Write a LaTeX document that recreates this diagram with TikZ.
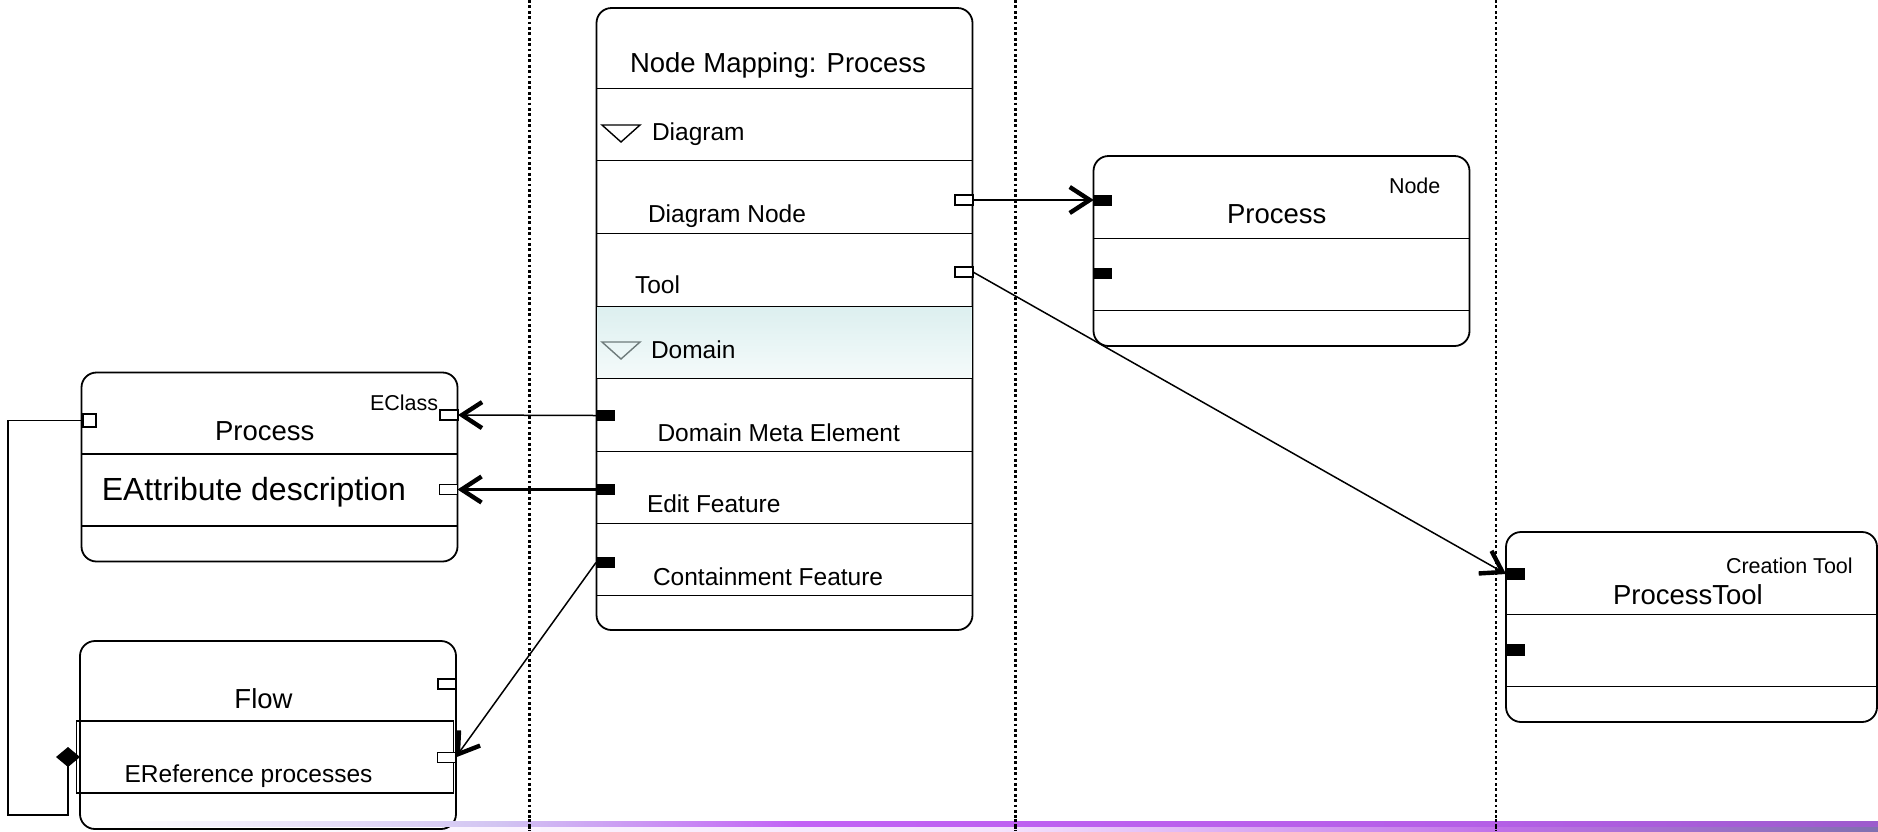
\documentclass[tikz,border=0pt]{standalone}
\usepackage{fontspec}
\setmainfont{Liberation Sans}
\usetikzlibrary{arrows.meta}
\definecolor{domtop}{HTML}{DCEFEF}
\definecolor{dombot}{HTML}{F5FBFB}
\definecolor{trigray}{HTML}{6E7B7B}
\definecolor{barA}{HTML}{C262F5}
\definecolor{barB}{HTML}{B45FE6}
\definecolor{barC}{HTML}{9C5CCC}
\definecolor{barD}{HTML}{F4E4FC}
\definecolor{barE}{HTML}{C070E8}
\definecolor{barF}{HTML}{8070B0}
\definecolor{barL}{HTML}{D2C4F2}
\begin{document}
\begin{tikzpicture}[x=1pt,y=-1pt,
  box/.style={draw=black, line width=1.8pt, rounded corners=15pt, fill=white, inner sep=0pt, outer sep=0pt},
  sep/.style={draw=black, line width=1.7pt},
  wport/.style={draw=black, fill=white, line width=1.3pt, inner sep=0pt, outer sep=0pt, minimum width=18pt, minimum height=10pt},
  bport/.style={draw=none, fill=black, inner sep=0pt, outer sep=0pt, minimum width=19pt, minimum height=11pt},
  txt/.style={inner sep=0pt, outer sep=0pt},
  rowlbl/.style={txt, anchor=base west, font=\fontsize{24.5}{28}\selectfont},
  cname/.style={txt, font=\fontsize{27.5}{31}\selectfont},
  stereo/.style={txt, anchor=base west, font=\fontsize{21.5}{25}\selectfont},
  link/.style={draw=black, line width=1.5pt},
  barb/.style={-{Straight Barb[length=20pt,width=26pt,line width=4.4pt]}},
  lane/.style={draw=black, line width=2.8pt, dash pattern=on 2.8pt off 2.6pt},
]
\useasboundingbox (0,0) rectangle (1878,831);

% footer strip, lower band
\shade[left color=white, right color=barD] (80,826) rectangle (1000,831);
\shade[left color=barD, right color=barE] (999.5,826) rectangle (1500,831);
\shade[left color=barE, right color=barF] (1499.5,826) rectangle (1878,831);

% swimlane separators
\draw[lane] (529.5,0) -- (529.5,831);
\draw[lane] (1015.6,0) -- (1015.6,831);
\draw[lane] (1496,0) -- (1496,831);

% boxes
\node[box, minimum width=376pt, minimum height=622pt] (map) at (784.5,319) {};
\node[box, minimum width=376pt, minimum height=190pt] (procN) at (1281.5,251) {};
\node[box, minimum width=371pt, minimum height=190pt] (ptool) at (1691.5,627) {};
\node[box, minimum width=376pt, minimum height=189pt] (procL) at (269.5,467) {};
\node[box, minimum width=376pt, minimum height=188pt] (flow) at (268,735) {};

% footer strip, upper band (runs over the lower boxes)
\shade[left color=white, right color=barL] (110,821) rectangle (500,826);
\shade[left color=barL, right color=barA] (499.5,821) rectangle (800,826);
\shade[left color=barA, right color=barB] (799.5,821) rectangle (1500,826);
\shade[left color=barB, right color=barC] (1499.5,821) rectangle (1878,826);
\draw[lane] (529.5,819) -- (529.5,831);
\draw[lane] (1015.6,819) -- (1015.6,831);
\draw[lane] (1496,819) -- (1496,831);

% node mapping compartments
\shade[top color=domtop, bottom color=dombot] (597.4,306.5) rectangle (971.6,378.5);
\foreach \yy in {88.6,160.5,233.5,306.5,378.5,451.5,523.5,595.5}
  \draw[sep] (596.5,\yy) -- (972.5,\yy);
\draw[line width=1.4pt] (602,125) -- (640,125) -- (621,142) -- cycle;
\draw[trigray, line width=1.4pt] (602,342) -- (640,342) -- (621,359) -- cycle;

% class compartments
\foreach \yy in {238.5,310.5}
  \draw[sep, line width=1.5pt] (1093.5,\yy) -- (1469.5,\yy);
\foreach \yy in {614.5,686.5}
  \draw[sep, line width=1.5pt] (1506,\yy) -- (1877,\yy);
\foreach \yy in {454,526}
  \draw[sep, line width=1.5pt] (81.5,\yy) -- (457.5,\yy);
\draw[line width=1.5pt] (76.7,721) rectangle (453.5,793);

% ports
\node[wport] (pDN) at (964,200) {};
\node[wport] (pTool) at (964,272) {};
\node[bport] (pDME) at (605.5,415.5) {};
\node[bport] (pEF) at (605.5,489.5) {};
\node[bport] (pCF) at (605.5,562.5) {};
\node[bport, minimum width=18.5pt] (pN1) at (1103,200) {};
\node[bport, minimum width=18.5pt] (pN2) at (1103,273) {};
\node[bport, minimum height=12pt] (pT1) at (1515.5,574) {};
\node[bport, minimum height=12pt] (pT2) at (1515.5,650) {};
\node[wport] (pEC) at (449,415) {};
\node[wport] (pEA) at (448.5,489.5) {};
\node[wport, minimum width=13pt, minimum height=13pt] (pLeft) at (89.5,420.5) {};
\node[wport] (pF1) at (447,684) {};
\node[wport] (pF2) at (446.5,757.5) {};

% labels
\node[cname, anchor=base west] (tMap) at (630,72) {Node Mapping: Process};
\node[rowlbl] (tDiag) at (652,140) {Diagram};
\node[rowlbl] (tDN) at (648,222.5) {Diagram Node};
\node[rowlbl] (tTool) at (635,293.5) {Tool};
\node[rowlbl] (tDom) at (651,358) {Domain};
\node[rowlbl] (tDME) at (657.5,441) {Domain Meta Element};
\node[rowlbl] (tEF) at (647,512) {Edit Feature};
\node[rowlbl] (tCF) at (653,585) {Containment Feature};

\node[stereo] (sNode) at (1389,193) {Node};
\node[cname, anchor=base] (tProcN) at (1276.7,223) {Process};
\node[stereo] (sCT) at (1726,573) {Creation Tool};
\node[cname, anchor=base west] (tPT) at (1613,604) {ProcessTool};
\node[stereo] (sEC) at (370,410) {EClass};
\node[cname, anchor=base] (tProcL) at (264.7,440) {Process};
\node[txt, anchor=base west, font=\fontsize{32}{36}\selectfont] (tAttr) at (101.8,500) {EAttribute description};
\node[cname, anchor=base] (tFlow) at (263.5,708) {Flow};
\node[rowlbl] (tRef) at (124.6,782.5) {EReference processes};

% connectors
\draw[link, barb] (pDN.east) -- (pN1.west);
\draw[link, barb] (pTool.east) -- (pT1.west);
\draw[link, barb] (pDME.west) -- (pEC.east);
\draw[link, line width=2.6pt, barb] (pEF.west) -- (pEA.east);
\draw[link, barb] (pCF.west) -- (pF2.east);
\coordinate (dtip) at (68,747);
\draw[link, -{Diamond[length=20pt,width=24pt]}] (pLeft.west) -- (8,420.5) -- (8,815) -- (68,815) -- (dtip);
\end{tikzpicture}
\end{document}
